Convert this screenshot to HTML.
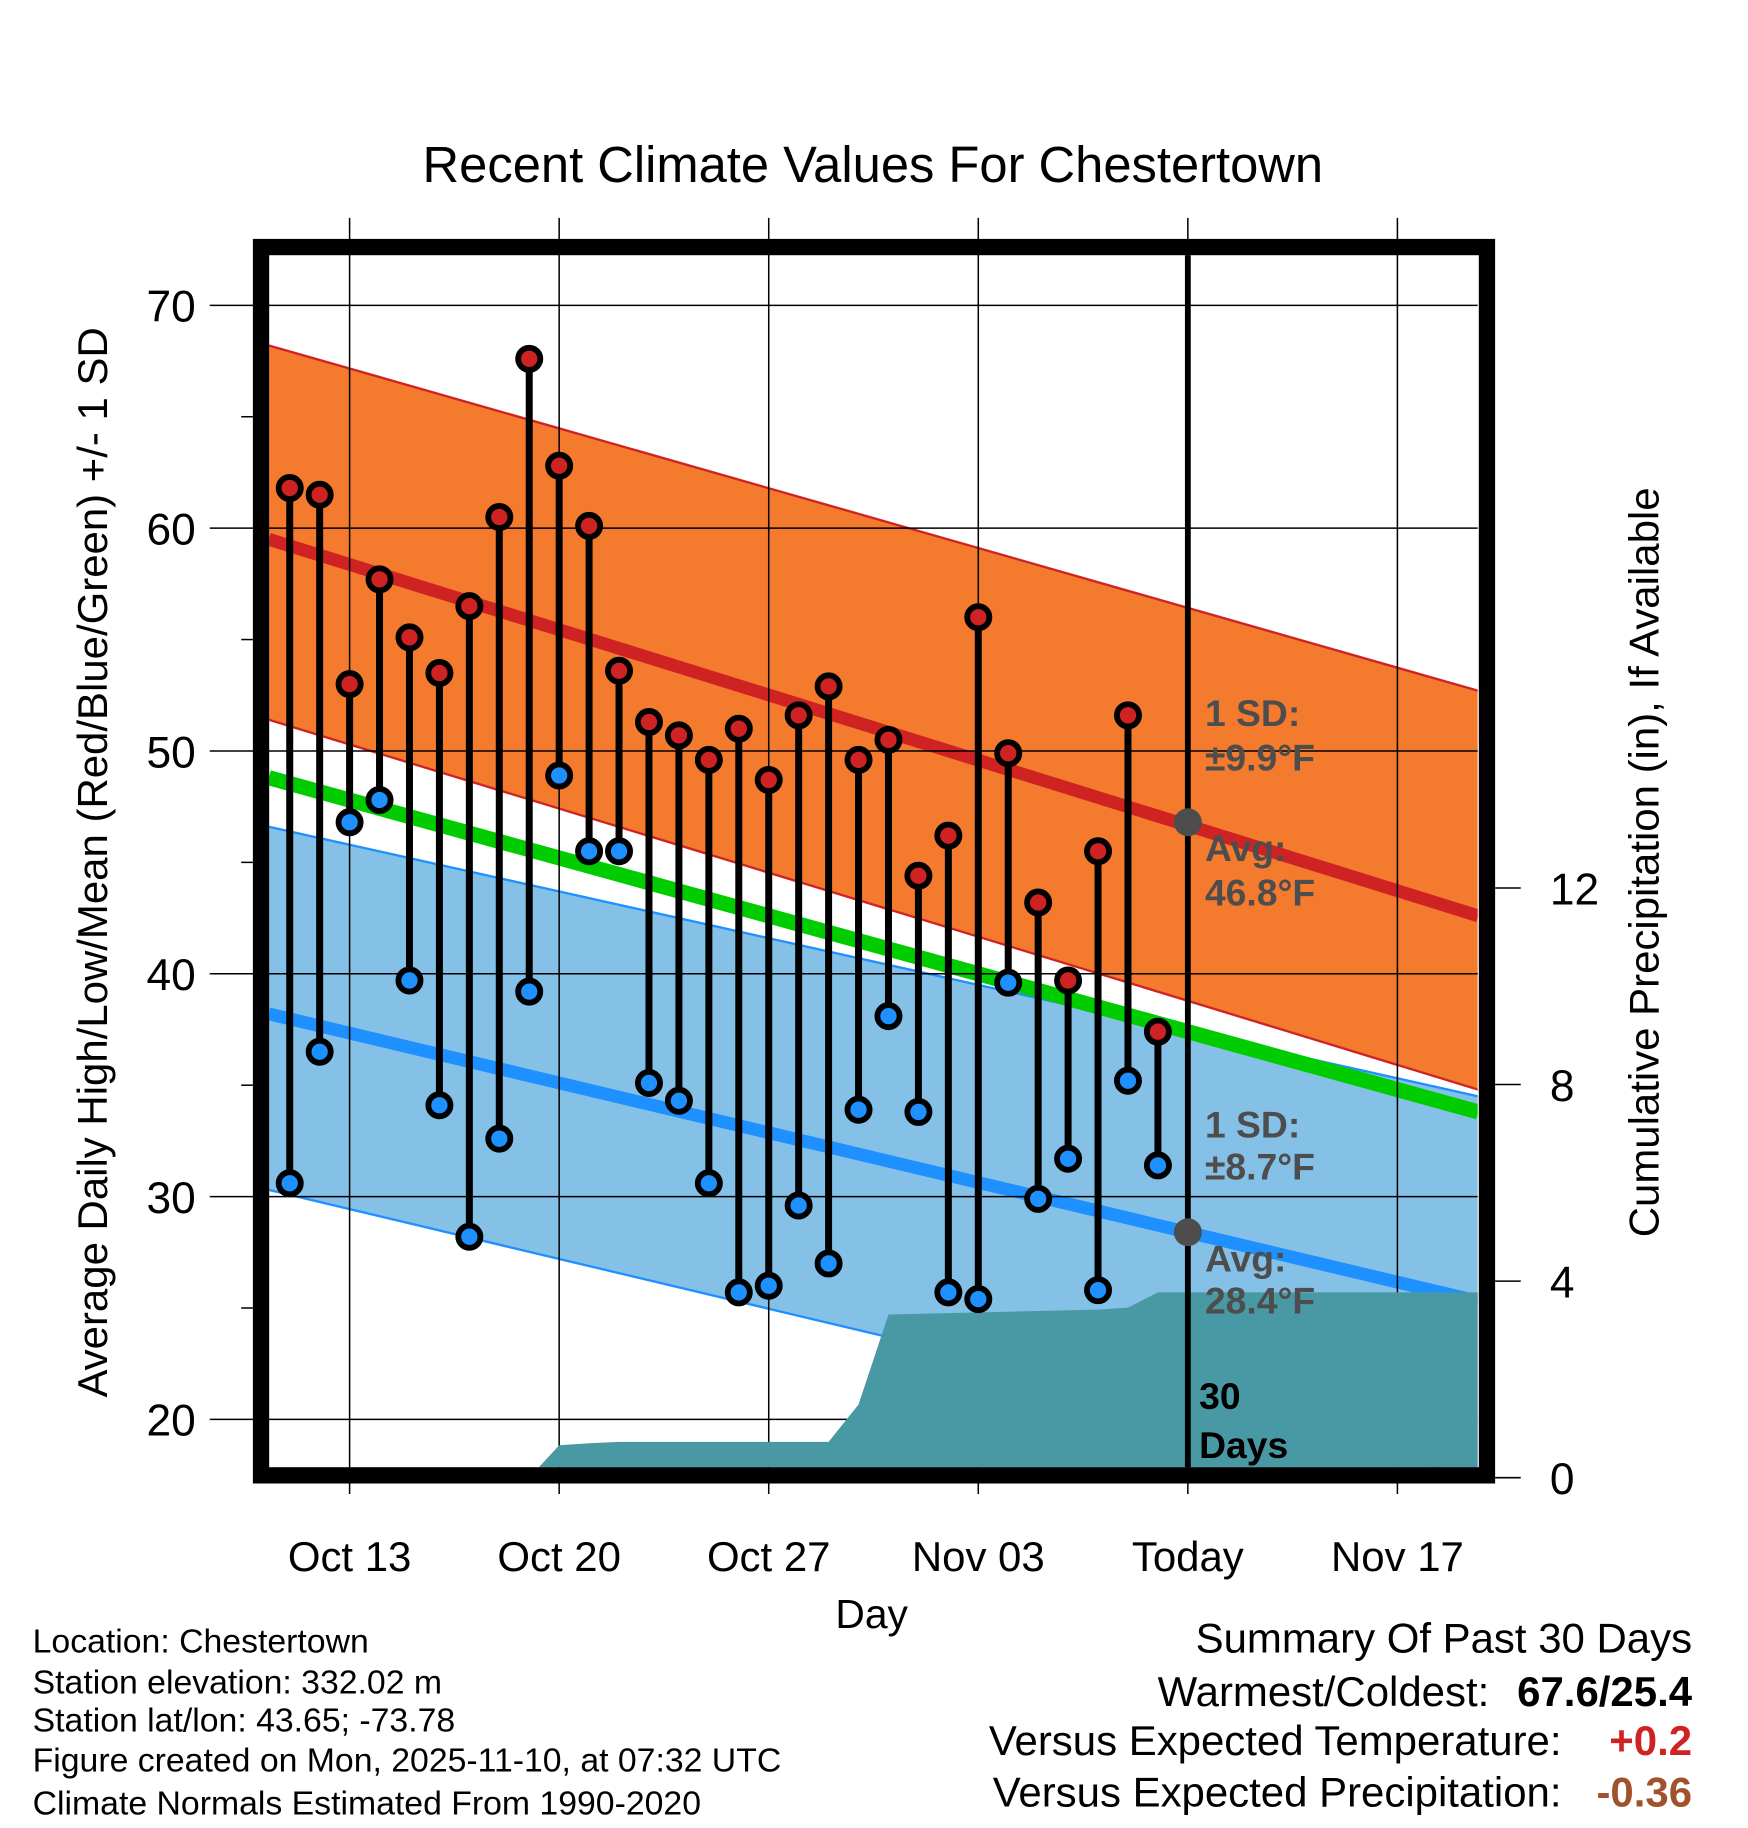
<!DOCTYPE html>
<html><head><meta charset="utf-8"><style>
html,body{margin:0;padding:0;background:#fff;}
svg{display:block;font-family:"Liberation Sans",sans-serif;}
</style></head><body>
<svg id="chart" width="1748" height="1828" viewBox="0 0 1500 1568.6" preserveAspectRatio="none" xmlns="http://www.w3.org/2000/svg">
<defs><clipPath id="plotclip"><rect x="231" y="219" width="1037" height="1040"/></clipPath></defs>
<text x="749" y="156" font-size="43.5" text-anchor="middle">Recent Climate Values For Chestertown</text>
<g id="bands" clip-path="url(#plotclip)"></g>
<g id="grid"></g>
<g id="precip" clip-path="url(#plotclip)"></g>
<g id="marks"></g>
<rect x="224" y="212" width="1052" height="1054" fill="none" stroke="#000" stroke-width="14"/>
<g id="axes"></g>
<text transform="translate(92,740) rotate(-90)" font-size="36" text-anchor="middle">Average Daily High/Low/Mean (Red/Blue/Green) +/- 1 SD</text>
<text transform="translate(1423,740) rotate(-90)" font-size="36" text-anchor="middle">Cumulative Precipitation (in), If Available</text>
<text x="748" y="1397" font-size="35" text-anchor="middle">Day</text>
<g font-size="29">
<text x="28" y="1418">Location: Chestertown</text>
<text x="28" y="1453">Station elevation: 332.02 m</text>
<text x="28" y="1486">Station lat/lon: 43.65; -73.78</text>
<text x="28" y="1520">Figure created on Mon, 2025-11-10, at 07:32 UTC</text>
<text x="28" y="1557">Climate Normals Estimated From 1990-2020</text>
</g>
<g font-size="36">
<text x="1452" y="1418" text-anchor="end">Summary Of Past 30 Days</text>
<text x="1278" y="1464" text-anchor="end">Warmest/Coldest:</text>
<text x="1452" y="1464" text-anchor="end" font-weight="bold">67.6/25.4</text>
<text x="1340" y="1506" text-anchor="end">Versus Expected Temperature:</text>
<text x="1452" y="1506" text-anchor="end" font-weight="bold" fill="#cf2323">+0.2</text>
<text x="1340" y="1550" text-anchor="end">Versus Expected Precipitation:</text>
<text x="1452" y="1550" text-anchor="end" font-weight="bold" fill="#a0522d">-0.36</text>
</g>
</svg>
<script>
// days relative to Oct 13 (index 0)
const dayIdx = [-2,-1,0,1,2,3,4,5,6,7,8,9,10,11,12,13,14,15,16,17,18,19,20,21,22,23,24,25,26,27];
const highs = [61.8,61.5,53.0,57.7,55.1,53.5,56.5,60.5,67.6,62.8,60.1,53.6,51.3,50.7,49.6,51.0,48.7,51.6,52.9,49.6,50.5,44.4,46.2,56.0,49.9,43.2,39.7,45.5,51.6,37.4];
const lows = [30.6,36.5,46.8,47.8,39.7,34.1,28.2,32.6,39.2,48.9,45.5,45.5,35.1,34.3,30.6,25.7,26.0,29.6,27.0,33.9,38.1,33.8,25.7,25.4,39.6,29.9,31.7,25.8,35.2,31.4];
const precipDays = [-2,6,7,8,9,16,17,18,25,26,27,38];
const precipVals = [0,0,0.66,0.70,0.73,0.73,1.49,3.32,3.42,3.46,3.77,3.77];
const normDays = [-2.7,37.7];
const hiUpper = [68.2,52.7];
const hiAvg = [59.5,42.6];
const hiLower = [51.4,34.8];
const meanAvg = [48.8,33.8];
const loUpper = [46.6,34.5];
const loAvg = [38.2,25.3];
const loLower = [30.3,17.4];
const tempTicks = [20,30,40,50,60,70];
const precipTicks = [0,4,8,12];
const xTickDays = [0,7,14,21,28,35];
const xTickLabels = ["Oct 13","Oct 20","Oct 27","Nov 03","Today","Nov 17"];
const todayDay = 28;
const todayHigh = 46.8, todayLow = 28.4;

const NS="http://www.w3.org/2000/svg";
const X = d => 300 + d*25.69;
const YT = t => 262 + (70-t)*19.12;
const YP = p => 1268 - p*42.17;
function mk(tag, parent, attrs){const e=document.createElementNS(NS,tag);for(const k in attrs)e.setAttribute(k,attrs[k]);parent.appendChild(e);return e;}
const bands=document.getElementById('bands'),grid=document.getElementById('grid'),precip=document.getElementById('precip'),marks=document.getElementById('marks'),axes=document.getElementById('axes');
function bandPts(up,lo){const a=normDays.map((d,i)=>X(d)+','+YT(up[i]));const b=normDays.map((d,i)=>X(d)+','+YT(lo[i])).reverse();return a.concat(b).join(' ');}
function linePts(v){return normDays.map((d,i)=>X(d)+','+YT(v[i])).join(' ');}
let e;
e=mk('polygon',bands,{points:bandPts(loUpper,loLower),fill:'#85c1e7'});

e=mk('polyline',bands,{points:linePts(loUpper),fill:'none',stroke:'#1e90ff','stroke-width':2});

e=mk('polyline',bands,{points:linePts(loLower),fill:'none',stroke:'#1e90ff','stroke-width':2});

e=mk('polygon',bands,{points:bandPts(hiUpper,hiLower),fill:'#f47a2e'});

e=mk('polyline',bands,{points:linePts(hiUpper),fill:'none',stroke:'#cf2323','stroke-width':2});

e=mk('polyline',bands,{points:linePts(hiLower),fill:'none',stroke:'#cf2323','stroke-width':2});

e=mk('polyline',bands,{points:linePts(hiAvg),fill:'none',stroke:'#cf2323','stroke-width':11});

e=mk('polyline',bands,{points:linePts(loAvg),fill:'none',stroke:'#1e90ff','stroke-width':11});

e=mk('polyline',bands,{points:linePts(meanAvg),fill:'none',stroke:'#00cc00','stroke-width':13});

// grid
tempTicks.forEach(t=>{e=mk('line',grid,{x1:180,x2:1268,y1:YT(t),y2:YT(t),stroke:'#000','stroke-width':1.3});
});
xTickDays.forEach(d=>{e=mk('line',grid,{x1:X(d),x2:X(d),y1:187,y2:1282,stroke:'#000','stroke-width':1.3});
});
// precip
{const pts=precipDays.map((d,i)=>X(d)+','+YP(precipVals[i]));pts.push(X(38)+','+YP(0),X(-2)+','+YP(0));
e=mk('polygon',precip,{points:pts.join(' '),fill:'#4899a3'});
}
// today line
e=mk('line',marks,{x1:X(todayDay),x2:X(todayDay),y1:219,y2:1259,stroke:'#000','stroke-width':5});

[todayHigh,todayLow].forEach(v=>{e=mk('circle',marks,{cx:X(todayDay),cy:YT(v),r:12,fill:'#4d4d4d'});
});
// stems and markers
dayIdx.forEach((d,i)=>{
 e=mk('line',marks,{x1:X(d),x2:X(d),y1:YT(highs[i]),y2:YT(lows[i]),stroke:'#000','stroke-width':6});
 
 e=mk('circle',marks,{cx:X(d),cy:YT(highs[i]),r:9.5,fill:'#cf2323',stroke:'#000','stroke-width':5});
 
 e=mk('circle',marks,{cx:X(d),cy:YT(lows[i]),r:9.5,fill:'#1e90ff',stroke:'#000','stroke-width':5});
 
});
// annotations
function txt(parent,x,y,s,attrs){const t=mk('text',parent,attrs);t.setAttribute('x',x);t.setAttribute('y',y);t.textContent=s;return t;}
const ann=[["1 SD:",623],["±9.9°F",661],["Avg:",739],["46.8°F",777],["1 SD:",976],["±8.7°F",1012],["Avg:",1091],["28.4°F",1127]];
ann.forEach(a=>{e=txt(marks,1034,a[1],a[0],{'font-size':32,'font-weight':'bold',fill:'#4d4d4d'});
});
e=txt(marks,1029,1209,"30",{'font-size':32,'font-weight':'bold'});

e=txt(marks,1029,1251,"Days",{'font-size':32,'font-weight':'bold'});

// axes
tempTicks.forEach(t=>{e=txt(axes,168,YT(t)+14,String(t),{'font-size':38,'text-anchor':'end'});
});
for(let t=25;t<70;t+=10){e=mk('line',axes,{x1:207,x2:217,y1:YT(t),y2:YT(t),stroke:'#000','stroke-width':1.3});
}
precipTicks.forEach(p=>{e=mk('line',axes,{x1:1283,x2:1305,y1:YP(p),y2:YP(p),stroke:'#000','stroke-width':1.3});

e=txt(axes,1330,YP(p)+14,String(p),{'font-size':38});
});
xTickDays.forEach((d,i)=>{e=txt(axes,X(d),1348,xTickLabels[i],{'font-size':36,'text-anchor':'middle'});
});
</script>
</body></html>
